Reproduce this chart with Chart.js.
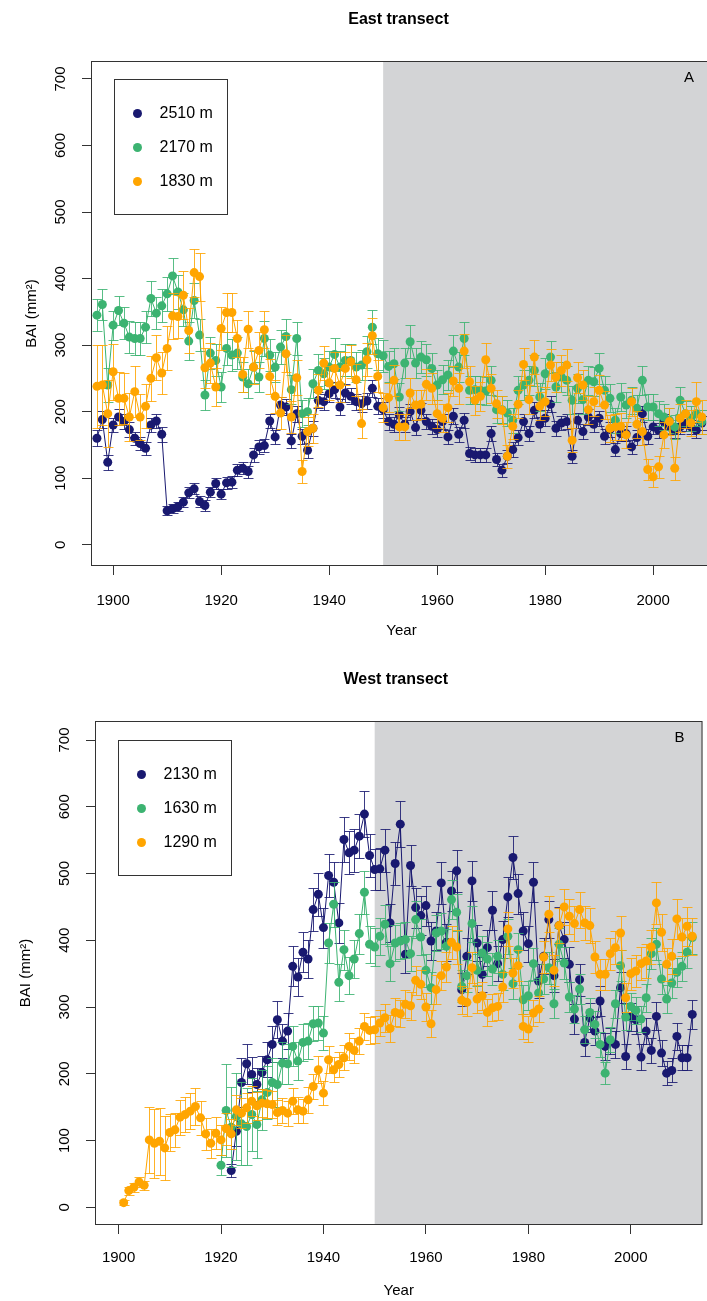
<!DOCTYPE html>
<html>
<head>
<meta charset="utf-8">
<script src="https://cdn.jsdelivr.net/npm/chart.js@4.4.1/dist/chart.umd.min.js"></script>
<style>
  html, body { margin: 0; padding: 0; background: #fff; overflow: hidden; }
  #wrap { width: 707px; height: 1301px; overflow: hidden; }
  canvas { display: block; }
</style>
</head>
<body>
<div id="wrap">
  <canvas id="east" width="720" height="650"></canvas>
  <canvas id="west" width="707" height="651"></canvas>
</div>
<script>
// axis ticks shared by both panels
const yearTicks = [1900, 1920, 1940, 1960, 1980, 2000];
const baiTicks = [0, 100, 200, 300, 400, 500, 600, 700];
const shadeFrom = 1950;
const colors = ["#191970", "#3cb371", "#ffa500"];

// East transect, one value per year from 1897
const eastLabels = ["2510 m", "2170 m", "1830 m"];
const eastStart = 1897;
const east2510 = [
  160,188,124,180,192,185,173,160,152,145,
  180,186,166,51,54,57,64,78,84,65,
  59,79,92,76,93,94,112,115,110,135,
  147,149,186,162,210,207,156,197,163,142,
  175,217,215,227,233,207,228,223,215,212,
  216,235,208,203,185,181,195,181,200,176,
  202,185,178,173,185,162,193,166,187,137,
  135,135,135,167,128,112,133,143,161,185,
  167,202,181,190,211,175,183,185,133,187,
  170,192,181,190,163,173,143,167,167,147,
  161,197,163,177,172,185,177,172,177,182,
  177,172,183];
const east2170 = [
  345,361,240,330,352,333,312,310,310,327,
  370,348,359,377,404,380,353,306,367,315,
  225,288,277,237,295,285,288,252,242,267,
  252,310,285,267,297,313,233,310,197,200,
  242,262,257,267,286,267,277,277,267,270,
  290,327,287,284,268,272,222,273,305,273,
  282,278,265,240,248,255,291,267,310,232,
  233,232,231,247,203,203,198,187,232,240,
  247,262,222,257,282,237,252,247,217,235,
  218,247,245,265,232,220,187,222,210,217,
  205,247,207,207,197,192,187,177,217,197,
  190,197,185];
const east1830 = [
  238,240,197,260,220,220,192,230,192,208,
  250,281,258,295,344,343,375,322,409,403,
  266,273,237,325,349,349,310,256,324,267,
  292,323,253,223,198,287,192,251,110,170,
  175,232,273,243,265,240,265,275,248,182,
  278,314,253,206,221,247,177,177,228,210,
  211,241,235,197,190,206,246,235,291,245,
  217,223,278,235,212,202,133,178,211,271,
  218,282,208,215,270,252,262,270,157,251,
  240,203,215,232,210,175,177,178,165,215,
  181,170,113,102,117,165,185,115,190,197,
  183,215,192];
const east2510Err = [
  12,13,11,11,12,11,11,10,10,10,
  11,11,11,7,7,7,8,8,8,8,
  8,8,9,8,9,9,9,9,9,10,
  10,10,11,11,12,12,11,12,11,11,
  11,12,12,13,12,12,13,12,12,12,
  12,13,12,12,12,11,12,11,12,11,
  11,11,11,11,11,11,12,11,11,10,
  10,10,10,11,10,10,10,11,11,12,
  11,12,11,12,12,11,11,11,10,11,
  11,12,11,11,11,11,10,11,11,10,
  11,12,11,11,11,11,11,11,11,11,
  11,11,11];
const east2170Err = [
  24,23,26,22,22,24,24,25,25,24,
  26,24,25,26,27,26,25,28,27,24,
  22,24,24,22,25,24,24,22,22,24,
  23,26,24,23,25,26,22,25,20,20,
  22,24,23,24,25,24,24,24,23,23,
  24,26,24,24,23,23,21,23,25,23,
  24,24,23,22,22,23,24,23,25,21,
  21,21,21,22,20,20,19,19,21,22,
  22,23,21,23,24,22,23,22,21,22,
  21,22,22,23,21,21,19,21,20,20,
  20,22,20,20,19,19,19,18,20,19,
  19,19,18];
const east1830Err = [
  62,60,50,42,40,38,36,38,34,33,
  34,34,32,33,35,33,36,34,36,36,
  30,30,28,32,30,30,28,26,28,26,
  27,28,26,25,24,28,24,26,18,22,
  22,25,26,25,25,25,25,25,24,22,
  25,27,24,22,22,23,20,20,23,22,
  22,23,23,21,21,22,23,23,26,23,
  22,22,25,22,21,21,17,19,21,24,
  22,25,21,22,24,23,23,24,18,23,
  23,21,22,23,21,20,20,20,19,21,
  20,20,16,16,17,19,20,17,21,21,
  20,30,25];

// West transect
const westLabels = ["2130 m", "1630 m", "1290 m"];
const westStart = [1922, 1920, 1901];
const west2130 = [
  55,114,187,215,199,184,202,221,244,281,
  249,264,361,345,382,372,446,469,419,497,
  487,426,551,531,535,556,589,527,506,507,
  535,426,515,574,379,512,449,437,452,399,
  414,486,397,474,504,326,376,489,396,349,
  389,445,365,401,465,524,470,414,395,487,
  339,376,431,347,422,401,364,282,341,247,
  284,264,309,241,249,244,329,226,285,281,
  225,264,235,286,231,201,205,256,224,224,
  289];
const west1630 = [
  63,145,120,136,125,121,139,124,161,172,
  187,184,216,215,241,219,247,249,275,276,
  261,396,454,337,386,347,372,410,472,394,
  390,406,424,365,396,399,401,380,431,405,
  355,329,411,414,391,461,442,331,347,425,
  355,381,372,357,376,349,406,335,386,311,
  317,365,321,342,359,305,394,366,315,297,
  327,266,292,274,244,201,251,305,362,285,
  301,295,282,314,380,394,342,312,336,352,
  361,382,404];
const west1290 = [
  7,25,30,38,33,101,96,99,89,112,
  116,135,139,144,151,134,110,96,111,101,
  118,110,146,141,149,159,152,156,155,154,
  142,145,141,159,146,144,161,181,206,171,
  221,206,214,224,241,235,249,271,265,266,
  276,284,268,292,290,304,302,340,334,300,
  275,326,347,360,397,390,310,307,359,312,
  317,292,299,301,330,417,351,362,271,267,
  291,297,375,439,355,422,450,436,425,446,
  426,422,375,349,349,380,389,411,314,350,
  354,365,369,390,456,412,364,376,432,405,
  421,406];
const west2130Err = [
  10,22,36,30,26,24,25,26,27,28,
  26,27,30,28,30,29,32,32,30,32,
  31,30,33,32,32,33,35,32,31,31,
  32,29,32,34,28,31,30,29,30,28,
  29,31,28,30,31,25,27,30,27,26,
  27,29,26,28,30,32,30,28,27,30,
  25,27,28,25,28,27,26,22,24,20,
  22,21,23,20,20,20,23,19,21,21,
  19,20,19,21,19,18,18,20,19,19,
  22];
const west1630Err = [
  15,70,60,65,62,58,55,50,45,40,
  36,34,32,30,30,28,28,27,26,26,
  25,30,34,28,30,28,28,30,32,28,
  28,28,29,26,27,27,27,26,28,27,
  25,24,27,27,26,29,28,24,24,27,
  24,25,25,24,25,24,26,23,25,22,
  22,24,22,23,24,22,25,24,22,21,
  22,20,21,20,19,17,19,21,23,20,
  20,20,20,21,23,24,22,21,22,22,
  22,23,24];
const west1290Err = [
  4,6,7,8,7,50,52,50,48,28,
  26,26,26,27,28,26,24,22,24,23,
  24,23,22,22,22,22,21,21,21,20,
  19,19,19,19,19,18,19,19,20,18,
  20,19,19,19,20,19,20,20,20,20,
  20,21,20,21,20,21,21,22,22,21,
  20,22,22,23,25,25,21,21,23,21,
  21,20,20,20,22,26,23,23,19,19,
  20,20,24,27,23,26,27,26,26,27,
  26,26,24,23,23,24,25,26,22,24,
  24,25,25,26,32,28,25,26,30,28,
  29,28];

Chart.defaults.font.family = '"Liberation Sans", Arial, sans-serif';
Chart.defaults.color = "#000";

// vertical error bars with caps, drawn just under each series
const errorBars = {
  id: "errorBars",
  beforeDatasetDraw(chart, args) {
    const ds = chart.data.datasets[args.index];
    const xs = chart.scales.x, ys = chart.scales.y;
    const ctx = chart.ctx;
    ctx.save();
    ctx.strokeStyle = ds.borderColor;
    ctx.globalAlpha = 0.85;
    ctx.lineWidth = 1;
    ctx.beginPath();
    ds.data.forEach((p, i) => {
      const e = ds.errors[i];
      const px = Math.round(xs.getPixelForValue(p.x)) + 0.5;
      const top = Math.round(ys.getPixelForValue(p.y + e)) + 0.5;
      const bot = Math.round(ys.getPixelForValue(p.y - e)) + 0.5;
      ctx.moveTo(px, top); ctx.lineTo(px, bot);
      ctx.moveTo(px - 5, top); ctx.lineTo(px + 5, top);
      ctx.moveTo(px - 5, bot); ctx.lineTo(px + 5, bot);
    });
    ctx.stroke();
    ctx.restore();
  }
};

// grey period, frame, boxed legend, panel letter and title
const panelDecor = {
  id: "panelDecor",
  beforeDatasetsDraw(chart) {
    const {ctx, chartArea: a} = chart;
    const xs = chart.scales.x.getPixelForValue(shadeFrom);
    ctx.save();
    ctx.fillStyle = "#d3d4d6";
    ctx.fillRect(xs, a.top, a.right - xs, a.bottom - a.top);
    ctx.restore();
  },
  afterDraw(chart, args, opts) {
    const {ctx, chartArea: a} = chart;
    ctx.save();
    ctx.strokeStyle = "#333";
    ctx.lineWidth = 1;
    ctx.strokeRect(a.left + 0.5, a.top + 0.5, a.right - a.left - 1, a.bottom - a.top - 1);

    // legend box
    const bx = a.left + 23.5, by = Math.round(chart.scales.y.getPixelForValue(700)) + 0.5;
    ctx.fillStyle = "#fff";
    ctx.fillRect(bx, by, 113, 135);
    ctx.strokeRect(bx, by, 113, 135);
    ctx.font = '16px "Liberation Sans", Arial, sans-serif';
    ctx.textBaseline = "middle";
    chart.data.datasets.forEach((ds, i) => {
      const ry = by + 34 + i * 34;
      ctx.fillStyle = ds.backgroundColor;
      ctx.beginPath();
      ctx.arc(bx + 23, ry, 4.5, 0, Math.PI * 2);
      ctx.fill();
      ctx.fillStyle = "#000";
      ctx.textAlign = "left";
      ctx.fillText(ds.label, bx + 45, ry);
    });

    ctx.fillStyle = "#000";
    ctx.font = '15px "Liberation Sans", Arial, sans-serif';
    ctx.textAlign = "center";
    ctx.fillText(opts.letter, a.right - 23, a.top + 17);

    ctx.font = 'bold 16px "Liberation Sans", Arial, sans-serif';
    ctx.fillText(opts.title, (a.left + a.right) / 2 - 3, opts.titleY);
    ctx.restore();
  }
};

function makePanel(id, p) {
  const datasets = p.values.map((vals, i) => ({
    label: p.labels[i],
    order: 2 - i,
    data: vals.map((v, k) => ({x: p.starts[i] + k, y: v})),
    errors: p.errors[i],
    showLine: true,
    borderColor: colors[i],
    backgroundColor: colors[i],
    borderWidth: 1,
    pointRadius: 4.5,
    pointHoverRadius: 4.5,
    pointBorderWidth: 0
  }));
  const grid = {drawOnChartArea: false, drawTicks: true, tickLength: 9, color: "#333"};
  return new Chart(document.getElementById(id), {
    type: "scatter",
    data: {datasets},
    options: {
      responsive: false,
      animation: false,
      events: [],
      layout: {padding: {top: p.padTop, right: p.padRight, left: 0, bottom: 0}},
      plugins: {
        legend: {display: false},
        tooltip: {enabled: false},
        panelDecor: {title: p.title, letter: p.letter, titleY: p.titleY}
      },
      scales: {
        x: {
          type: "linear", min: p.xMin, max: p.xMax,
          afterBuildTicks: s => { s.ticks = yearTicks.map(v => ({value: v})); },
          afterFit: s => { s.height = p.xHeight; },
          grid, border: {display: false},
          ticks: {padding: p.xTickPad, font: {size: 15}, autoSkip: false, maxRotation: 0,
                  callback: v => String(v)},
          title: {display: true, text: "Year", font: {size: 15}, padding: {top: 0, bottom: p.xTitlePad}}
        },
        y: {
          type: "linear", min: p.yMin, max: p.yMax,
          afterBuildTicks: s => { s.ticks = baiTicks.map(v => ({value: v})); },
          afterFit: s => { s.width = p.yWidth; },
          grid, border: {display: false},
          ticks: {padding: 9, font: {size: 15}, minRotation: 90, maxRotation: 90,
                  crossAlign: "center", callback: v => String(v)},
          title: {display: true, text: "BAI (mm²)", font: {size: 15}, padding: {top: p.yTitlePad, bottom: 0}}
        }
      }
    },
    plugins: [errorBars, panelDecor]
  });
}

makePanel("east", {
  labels: eastLabels,
  starts: [eastStart, eastStart, eastStart],
  values: [east2510, east2170, east1830],
  errors: [east2510Err, east2170Err, east1830Err],
  title: "East transect", letter: "A", titleY: 20,
  padTop: 61, padRight: 8, yWidth: 91, xHeight: 84,
  xMin: 1895.9, xMax: 2010.9, yMin: -32, yMax: 727,
  xTickPad: 17, xTitlePad: 10, yTitlePad: 23
});

makePanel("west", {
  labels: westLabels,
  starts: westStart,
  values: [west2130, west1630, west1290],
  errors: [west2130Err, west1630Err, west1290Err],
  title: "West transect", letter: "B", titleY: 30,
  padTop: 71, padRight: 2, yWidth: 95, xHeight: 76,
  xMin: 1895.4, xMax: 2014.0, yMin: -26.5, yMax: 728.5,
  xTickPad: 15, xTitlePad: 1, yTitlePad: 17
});
</script>
</body>
</html>
